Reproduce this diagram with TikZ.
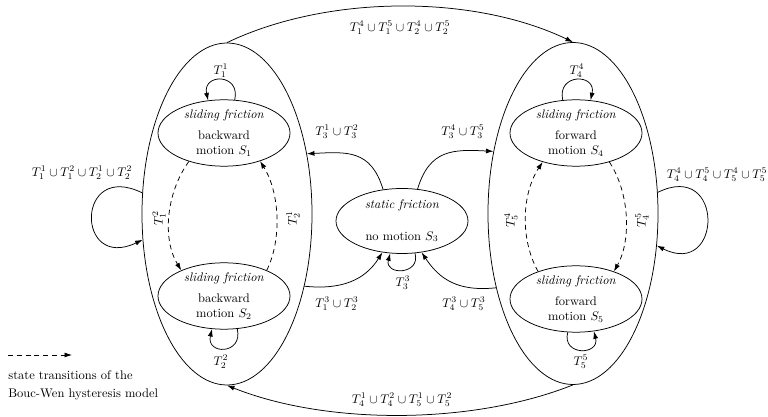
\documentclass[tikz,border=0pt]{standalone}
\usetikzlibrary{shapes.geometric,arrows.meta}
\begin{document}
\begin{tikzpicture}[x=0.8pt,y=-0.8pt,
  line width=0.6pt,
  bigell/.style={draw,ellipse,inner sep=0pt,minimum width=136pt,minimum height=273.6pt},
  smallell/.style={draw,ellipse,inner sep=0pt,minimum width=105.6pt,minimum height=52pt,align=center},
  arr/.style={-{Latex[length=6pt,width=4pt]}},
  dasharr/.style={arr,dash pattern=on 4pt off 3pt},
  lbl/.style={inner sep=0pt}]
\useasboundingbox (0,0) rectangle (768,417);

% big groups
\node[bigell] (L) at (227,214) {};
\node[bigell] (R) at (573,213.5) {};

% states
\node[smallell] (S1) at (224,133) {\textit{sliding friction}\\[5pt] backward\\ motion $S_1$};
\node[smallell] (S2) at (224,296) {\textit{sliding friction}\\[5pt] backward\\ motion $S_2$};
\node[smallell] (S4) at (576,133) {\textit{sliding friction}\\[5pt] forward\\ motion $S_4$};
\node[smallell] (S5) at (576,299) {\textit{sliding friction}\\[5pt] forward\\ motion $S_5$};
\node[smallell] (S3) at (402,221) {\textit{static friction}\\[13pt] no motion $S_3$};

% group transitions
\draw[arr] (L.north) .. controls +(100,-48) and +(-100,-48) .. (R.north);
\draw[arr] (R.south) .. controls +(-100,40) and +(100,40) .. (L.south);
\draw[arr] (L.166) .. controls +(-67,-33) and +(-67,32) .. (L.197);
\draw[arr] (R.14) .. controls +(67,-33) and +(66,33) .. (R.-21);

% static friction transitions
\draw[arr] (S3.121) .. controls +(-12,-40) and +(40,-2) .. (L.37);
\draw[arr] (S3.64) .. controls +(12,-40) and +(-40,-2) .. (R.142);
\draw[arr] (L.-43) .. controls +(38,4) and +(-17,27) .. (S3.238);
\draw[arr] (R.224) .. controls +(-38,4) and +(18,27) .. (S3.-58);
\draw[arr] (S3.-68) .. controls +(6,22) and +(-6,22) .. (S3.-110);

% self loops
\draw[arr] (S1.72) .. controls +(6,-27) and +(-6,-27) .. (S1.116);
\draw[arr] (S4.112) .. controls +(-6,-27) and +(6,-27) .. (S4.66);
\draw[arr] (S2.-68) .. controls +(6,26) and +(-6,26) .. (S2.-110);
\draw[arr] (S5.-104) .. controls +(-6,24) and +(6,24) .. (S5.-61);

% Bouc-Wen transitions
\draw[dasharr] (S1.219) .. controls +(-23,32) and +(-19,-31) .. (S2.149);
\draw[dasharr] (S2.31) .. controls +(15,-30) and +(20,32) .. (S1.-38);
\draw[dasharr] (S4.-41) .. controls +(21,32) and +(17,-30) .. (S5.36);
\draw[dasharr] (S5.144) .. controls +(-18,-32) and +(-21,32) .. (S4.221);

% labels
\node[lbl] (t11) at (221,71) {$T_1^1$};
\node[lbl] (t44) at (577,71) {$T_4^4$};
\node[lbl] (t22) at (221,362) {$T_2^2$};
\node[lbl] (t55) at (581,362) {$T_5^5$};
\node[lbl] (t33) at (403,283) {$T_3^3$};
\node[lbl] (t3a) at (337,132) {$T_3^1\cup T_3^2$};
\node[lbl] (t3b) at (463,132) {$T_3^4\cup T_3^5$};
\node[lbl] (t12) at (337,304) {$T_1^3\cup T_2^3$};
\node[lbl] (t45) at (464,304) {$T_4^3\cup T_5^3$};
\node[lbl] (ttop) at (400,28) {$T_1^4\cup T_1^5\cup T_2^4\cup T_2^5$};
\node[lbl] (tbot) at (402,400) {$T_4^1\cup T_4^2\cup T_5^1\cup T_5^2$};
\node[lbl] (tl) at (82,173) {$T_1^1\cup T_1^2\cup T_2^1\cup T_2^2$};
\node[lbl] (tr) at (717,175) {$T_4^4\cup T_4^5\cup T_5^4\cup T_5^5$};
\node[lbl,rotate=90] (d12) at (159,218) {$T_1^2$};
\node[lbl,rotate=90] (d21) at (293,218) {$T_2^1$};
\node[lbl,rotate=90] (d54) at (511,220) {$T_5^4$};
\node[lbl,rotate=90] (d45) at (642,220) {$T_4^5$};

% legend
\coordinate (lg1) at (8,355);
\coordinate (lg2) at (72,355);
\draw[dasharr] (lg1) -- (lg2);
\node[lbl,anchor=base west] (leg1) at (8,380) {state transitions of the};
\node[lbl,anchor=base west] (leg2) at (8,398) {Bouc-Wen hysteresis model};
\end{tikzpicture}
\end{document}
